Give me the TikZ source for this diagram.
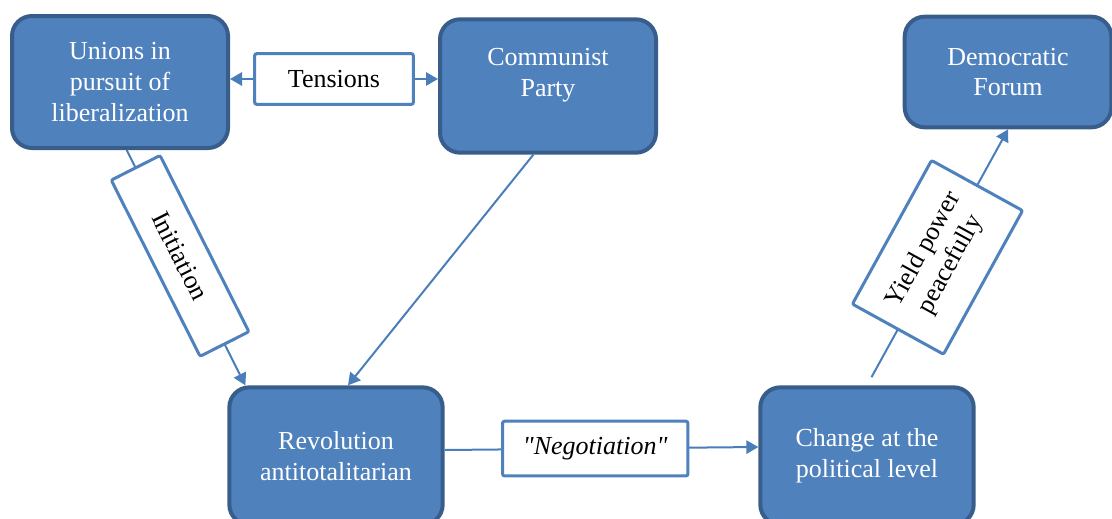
\documentclass[tikz,border=0pt]{standalone}
\usepackage{fontspec}
\setmainfont{Liberation Serif}
\usetikzlibrary{arrows.meta}

\begin{document}
\begin{tikzpicture}[x=.75pt, y=-.75pt]
  % Colors
  \definecolor{blank}{HTML}{ffffff}
  \definecolor{stagefill}{HTML}{4f81bd}
  \definecolor{outline}{HTML}{385d8a}
  \definecolor{linkline}{HTML}{4a7ebb}

  % Configurations
  \tikzset{
    stage/.style={rectangle, rounded corners=15pt, fill=stagefill, draw=outline,
      line width=3pt, text=blank, align=center,
      font=\fontsize{19.5}{23}\selectfont},
    tag/.style={rectangle, rounded corners=1.5pt, fill=blank, draw=stagefill,
      line width=2.25pt, text=black, align=center, inner sep=2pt,
      font=\fontsize{19.5}{23}\selectfont},
    flow/.style={draw=linkline, line width=1.5pt,
      -{Triangle[length=9pt, width=10pt]}}
  }

  % Bounding box
  \useasboundingbox (0,0) rectangle (1112,518);

  % Stages
  \node [stage, minimum width=162pt, minimum height=99pt] (unions)
    at (120,82) {Unions in\\pursuit of\\liberalization};
  \node [stage, minimum width=162pt, minimum height=100pt, text depth=20pt]
    (party) at (548,86) {Communist\\Party};
  \node [stage, minimum width=155pt, minimum height=83pt] (forum)
    at (1008,72) {Democratic\\Forum};
  \node [stage, minimum width=160pt, minimum height=103pt] (revolution)
    at (336,456) {Revolution\\antitotalitarian};
  \node [stage, minimum width=160pt, minimum height=103pt] (change)
    at (867,456) {Change at the\\political level};

  % Tensions
  \node [tag, minimum width=119pt, minimum height=38pt] (tensions)
    at (334,79) {Tensions};
  \draw [flow] (tensions) -- (tensions -| unions.east);
  \draw [flow] (tensions) -- (tensions -| party.west);

  % Initiation
  \draw [flow] ([xshift=5pt]unions.south)
    -- node [tag, sloped, pos=.45, minimum width=148pt, minimum height=41pt]
       (initiation) {Initiation}
    ([xshift=-68pt]revolution.north);

  % Party to revolution
  \draw [flow] ([xshift=-11pt]party.south) -- ([xshift=9pt]revolution.north);

  % Negotiation
  \draw [flow] ([yshift=4.5pt]revolution.east)
    -- node [tag, pos=.48, minimum width=139pt, minimum height=41pt]
       (negotiation) {\itshape\textquotedbl Negotiation\textquotedbl}
    ([yshift=6.75pt]change.west);

  % Yield power
  \draw [flow, shorten <=7pt] (change.north)
    -- node [tag, sloped, pos=.5, minimum width=123pt, minimum height=78pt]
       (yield) {Yield power\\peacefully}
    (forum.south);
\end{tikzpicture}
\end{document}
